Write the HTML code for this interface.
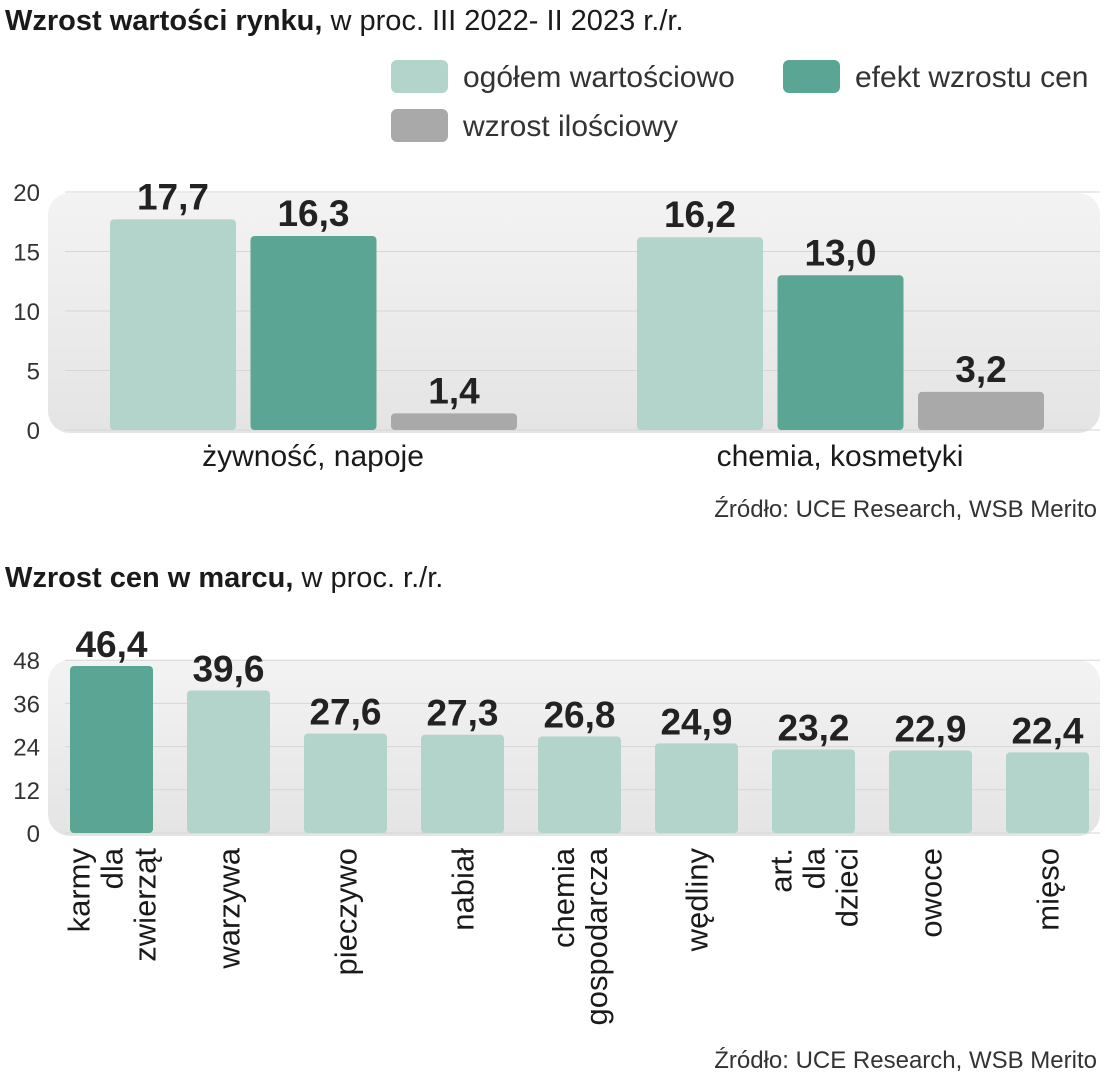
<!DOCTYPE html>
<html><head><meta charset="utf-8"><style>
html,body{margin:0;padding:0;background:#fff;}
svg{display:block;font-family:"Liberation Sans Narrow","Liberation Sans",sans-serif;}
</style></head><body>
<svg id="s" width="1106" height="1080" viewBox="0 0 1106 1080" xmlns="http://www.w3.org/2000/svg">
<defs>
<linearGradient id="bg" x1="0" y1="0" x2="0" y2="1"><stop offset="0" stop-color="#f3f3f3"/><stop offset="1" stop-color="#e4e4e4"/></linearGradient>
</defs>
<text x="5" y="30" font-size="29" fill="#1a1a1a"><tspan font-weight="bold">Wzrost wartości rynku,</tspan><tspan font-family="Liberation Sans Narrow, sans-serif"> w proc. III 2022- II 2023 r./r.</tspan></text>
<g>
<rect x="391" y="60" width="57" height="33" rx="6" fill="#b2d4cb"/>
<text x="463" y="87" font-size="30" fill="#333">ogółem wartościowo</text>
<rect x="783" y="60" width="57" height="33" rx="6" fill="#5ba595"/>
<text x="855" y="87" font-size="30" fill="#333">efekt wzrostu cen</text>
<rect x="391" y="109" width="57" height="33" rx="6" fill="#a9a9a9"/>
<text x="463" y="136" font-size="30" fill="#333">wzrost ilościowy</text>
</g>
<g id="c1"></g>
<text x="1097" y="517" font-size="24" fill="#333" text-anchor="end">Źródło: UCE Research, WSB Merito</text>
<text x="5" y="587" font-size="29" fill="#1a1a1a"><tspan font-weight="bold">Wzrost cen w marcu,</tspan><tspan> w proc. r./r.</tspan></text>
<g id="c2"></g>
<text x="1097" y="1068" font-size="24" fill="#333" text-anchor="end">Źródło: UCE Research, WSB Merito</text>
</svg>
<script>
const groups1=["żywność, napoje","chemia, kosmetyki"];
const seriesTotal=[17.7,16.2];
const seriesPrice=[16.3,13.0];
const seriesVolume=[1.4,3.2];
const ticks1=[0,5,10,15,20];
const cats2=[["karmy","dla","zwierząt"],["warzywa"],["pieczywo"],["nabiał"],["chemia","gospodarcza"],["wędliny"],["art.","dla","dzieci"],["owoce"],["mięso"]];
const values2=[46.4,39.6,27.6,27.3,26.8,24.9,23.2,22.9,22.4];
const ticks2=[0,12,24,36,48];
const NS="http://www.w3.org/2000/svg";
function mk(p,t,a){const e=document.createElementNS(NS,t);for(const k in a)e.setAttribute(k,a[k]);p.appendChild(e);return e;}
const fmt=v=>v.toFixed(1).replace('.',',');
// chart 1
const c1=document.getElementById('c1');
const y1=v=>430-v*11.9;
let bg=mk(c1,'rect',{x:48,y:193,width:1052,height:240,rx:22,fill:'url(#bg)'});

ticks1.forEach(t=>{
 const g=mk(c1,'line',{x1:65,x2:1100,y1:y1(t),y2:y1(t),stroke:'#d6d6d6','stroke-width':1});
 
 const l=mk(c1,'text',{x:40,y:y1(t)+9,'font-size':24,fill:'#333','text-anchor':'end'});l.textContent=t;
 
});
const ser=[[seriesTotal,'#b2d4cb','total'],[seriesPrice,'#5ba595','price'],[seriesVolume,'#a9a9a9','volume']];
groups1.forEach((gname,i)=>{
 const gx=110+i*527;
 ser.forEach((s,j)=>{
  const v=s[0][i],x=gx+j*140.5;
  const r=mk(c1,'rect',{x:x,y:y1(v),width:126,height:430-y1(v),rx:4,fill:s[1]});
  
  const t=mk(c1,'text',{x:x+63,y:y1(v)-10,'font-size':37,'font-weight':'bold',fill:'#222','text-anchor':'middle'});t.textContent=fmt(v);
  
 });
 const c=mk(c1,'text',{x:gx+203,y:466,'font-size':30,fill:'#1a1a1a','text-anchor':'middle'});c.textContent=gname;
 
});
// chart 2
const c2=document.getElementById('c2');
const y2=v=>833-v*3.6;
bg=mk(c2,'rect',{x:48,y:660,width:1052,height:176,rx:22,fill:'url(#bg)'});

ticks2.forEach(t=>{
 const g=mk(c2,'line',{x1:65,x2:1100,y1:y2(t),y2:y2(t),stroke:'#d6d6d6','stroke-width':1});
 
 const l=mk(c2,'text',{x:40,y:y2(t)+9,'font-size':24,fill:'#333','text-anchor':'end'});l.textContent=t;
 
});
values2.forEach((v,i)=>{
 const x=70+i*117,cx=x+41.5;
 const r=mk(c2,'rect',{x:x,y:y2(v),width:83,height:833-y2(v),rx:4,fill:i===0?'#5ba595':'#b2d4cb'});
 
 const t=mk(c2,'text',{x:cx,y:y2(v)-9,'font-size':37,'font-weight':'bold',fill:'#222','text-anchor':'middle'});t.textContent=fmt(v);
 
 const lines=cats2[i],n=lines.length;
 lines.forEach((ln,k)=>{
  const lx=cx+(k-(n-1)/2)*33+11;
  const tt=mk(c2,'text',{x:0,y:0,'font-size':31,fill:'#1a1a1a','text-anchor':'end',transform:'translate('+lx+',848) rotate(-90)'});tt.textContent=ln;
  
 });
});
</script>
</body></html>
